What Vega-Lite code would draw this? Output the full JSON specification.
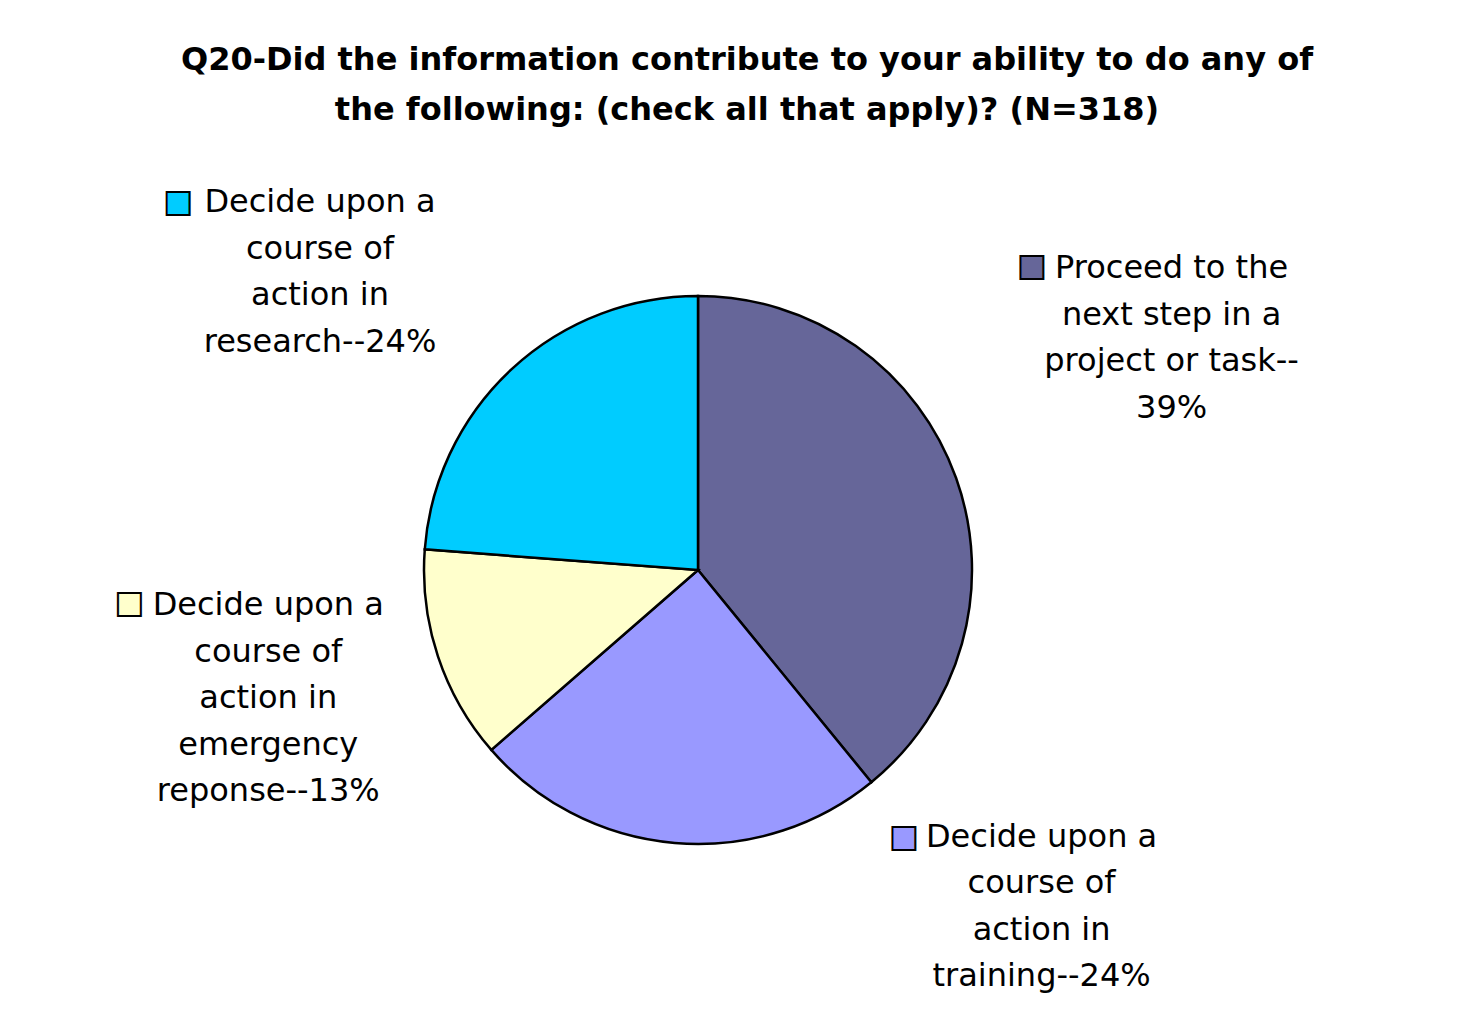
{
  "$schema": "https://vega.github.io/schema/vega-lite/v6.json",
  "width": 1376,
  "height": 860,
  "autosize": {"type": "none"},
  "padding": {"left": 10, "top": 140, "right": 89, "bottom": 32},
  "background": "white",
  "config": {"view": {"stroke": null}},
  "title": {
    "text": ["Q20-Did the information contribute to your ability to do any of", "the following: (check all that apply)? (N=318)"],
    "font": "DejaVu Sans",
    "fontSize": 32,
    "fontWeight": "bold",
    "color": "black",
    "lineHeight": 50,
    "anchor": "middle",
    "baseline": "bottom",
    "offset": -27,
    "dx": 49
  },
  "data": {
    "values": [
      {"idx": 1, "category": "Proceed to the next step in a project or task", "value": 39.1, "label": "Proceed to the\nnext step in a\nproject or task--\n39%"},
      {"idx": 2, "category": "Decide upon a course of action in training", "value": 24.5, "label": "Decide upon a\ncourse of\naction in\ntraining--24%"},
      {"idx": 3, "category": "Decide upon a course of action in emergency reponse", "value": 12.6, "label": "Decide upon a\ncourse of\naction in\nemergency\nreponse--13%"},
      {"idx": 4, "category": "Decide upon a course of action in research", "value": 23.8, "label": "Decide upon a\ncourse of\naction in\nresearch--24%"}
    ]
  },
  "encoding": {
    "theta": {"field": "value", "type": "quantitative", "stack": true},
    "order": {"field": "idx", "type": "quantitative"}
  },
  "layer": [
    {
      "mark": {"type": "arc", "radius": 274, "stroke": "black", "strokeWidth": 2.5},
      "encoding": {
        "color": {
          "field": "category", "type": "nominal", "legend": null,
          "scale": {
            "domain": ["Proceed to the next step in a project or task", "Decide upon a course of action in training", "Decide upon a course of action in emergency reponse", "Decide upon a course of action in research"],
            "range": ["#666699", "#9999FF", "#FFFFCC", "#00CCFF"]
          }
        }
      }
    },
    {
      "mark": {"type": "text", "radius": 300, "dx": 191, "dy": -201, "align": "center", "baseline": "middle", "font": "DejaVu Sans", "fontSize": 32, "lineHeight": 46.5, "lineBreak": "\n", "color": "black"},
      "encoding": {"text": {"condition": {"test": "datum.idx === 1", "field": "label", "type": "nominal"}, "value": ""}}
    },
    {
      "mark": {"type": "text", "radius": 300, "dx": 369, "dy": -32, "align": "center", "baseline": "middle", "font": "DejaVu Sans", "fontSize": 32, "lineHeight": 46.5, "lineBreak": "\n", "color": "black"},
      "encoding": {"text": {"condition": {"test": "datum.idx === 2", "field": "label", "type": "nominal"}, "value": ""}}
    },
    {
      "mark": {"type": "text", "radius": 300, "dx": -145, "dy": -59, "align": "center", "baseline": "middle", "font": "DejaVu Sans", "fontSize": 32, "lineHeight": 46.5, "lineBreak": "\n", "color": "black"},
      "encoding": {"text": {"condition": {"test": "datum.idx === 3", "field": "label", "type": "nominal"}, "value": ""}}
    },
    {
      "mark": {"type": "text", "radius": 300, "dx": -174, "dy": -148, "align": "center", "baseline": "middle", "font": "DejaVu Sans", "fontSize": 32, "lineHeight": 46.5, "lineBreak": "\n", "color": "black"},
      "encoding": {"text": {"condition": {"test": "datum.idx === 4", "field": "label", "type": "nominal"}, "value": ""}}
    },
    {
      "mark": {"type": "text", "radius": 300, "dx": 51, "dy": -203, "align": "center", "baseline": "middle", "font": "DejaVu Sans", "fontSize": 30, "stroke": "black", "strokeWidth": 2},
      "encoding": {
        "text": {"condition": {"test": "datum.idx === 1", "value": "■"}, "value": ""},
        "color": {"field": "category", "type": "nominal", "legend": null}
      }
    },
    {
      "mark": {"type": "text", "radius": 300, "dx": 231, "dy": -32, "align": "center", "baseline": "middle", "font": "DejaVu Sans", "fontSize": 30, "stroke": "black", "strokeWidth": 2},
      "encoding": {
        "text": {"condition": {"test": "datum.idx === 2", "value": "■"}, "value": ""},
        "color": {"field": "category", "type": "nominal", "legend": null}
      }
    },
    {
      "mark": {"type": "text", "radius": 300, "dx": -284, "dy": -61, "align": "center", "baseline": "middle", "font": "DejaVu Sans", "fontSize": 30, "stroke": "black", "strokeWidth": 2},
      "encoding": {
        "text": {"condition": {"test": "datum.idx === 3", "value": "■"}, "value": ""},
        "color": {"field": "category", "type": "nominal", "legend": null}
      }
    },
    {
      "mark": {"type": "text", "radius": 300, "dx": -316, "dy": -148, "align": "center", "baseline": "middle", "font": "DejaVu Sans", "fontSize": 30, "stroke": "black", "strokeWidth": 2},
      "encoding": {
        "text": {"condition": {"test": "datum.idx === 4", "value": "■"}, "value": ""},
        "color": {"field": "category", "type": "nominal", "legend": null}
      }
    }
  ]
}
